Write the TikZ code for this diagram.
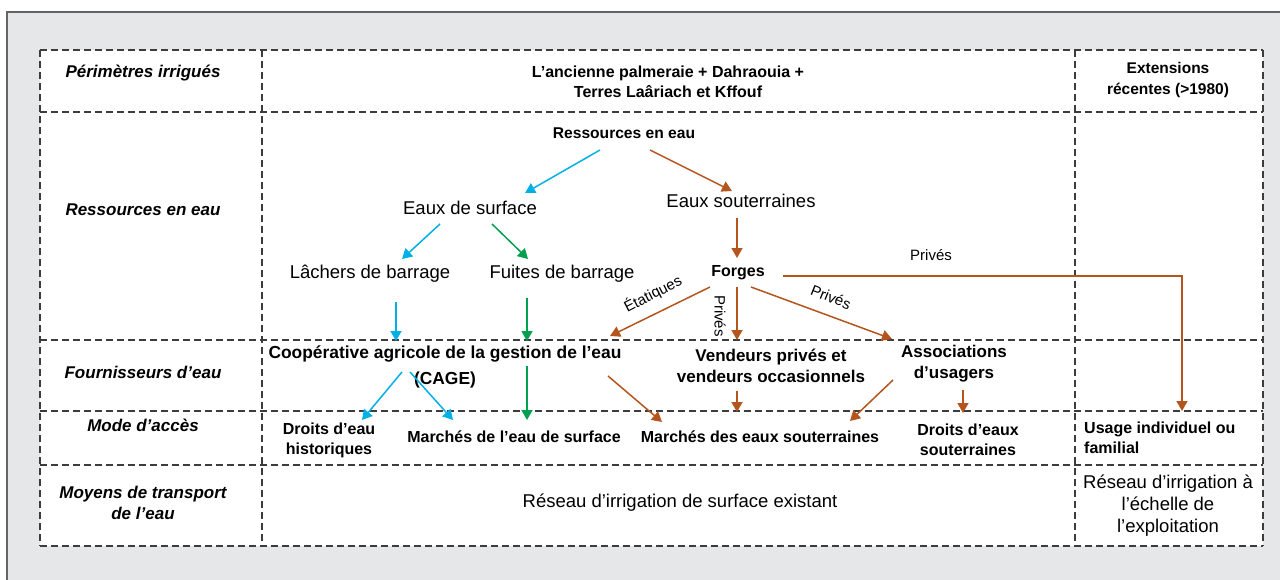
\documentclass[tikz,border=0pt]{standalone}
\usepackage{fontspec}
\setmainfont{Liberation Sans}
\usetikzlibrary{arrows.meta}
\definecolor{bgfill}{RGB}{230,231,232}
\definecolor{bordergray}{RGB}{100,100,100}
\definecolor{dashgray}{RGB}{60,60,60}
\definecolor{cblue}{RGB}{0,176,230}
\definecolor{cgreen}{RGB}{0,160,80}
\definecolor{cbrown}{RGB}{180,85,30}
\tikzset{
  tline/.style={draw=dashgray, line width=1.1pt, dash pattern=on 7pt off 4pt},
  rowlab/.style={font=\fontsize{17}{21}\selectfont\bfseries\itshape, align=center, inner sep=2pt},
  reg/.style={font=\fontsize{18.5}{22}\selectfont, align=center, inner sep=2pt},
  bold3/.style={font=\fontsize{17.4}{26}\selectfont\bfseries, align=center, inner sep=2pt},
  bold4/.style={font=\fontsize{16}{20}\selectfont\bfseries, align=center, inner sep=2pt},
  head/.style={font=\fontsize{16}{20}\selectfont\bfseries, align=center, inner sep=2pt},
  small/.style={font=\fontsize{15}{18}\selectfont, inner sep=1pt},
  arr/.style={line width=1.5pt, -{Triangle[length=10pt,width=11pt]}},
  barr/.style={arr, draw=cblue, -{Triangle[length=10pt,width=11pt,fill=cblue]}},
  garr/.style={arr, draw=cgreen},
  brarr/.style={arr, draw=cbrown},
}
\begin{document}
\begin{tikzpicture}[x=1pt,y=-1pt]
\clip (0,0) rectangle (1280,579);
\fill[white] (0,0) rectangle (1280,579);
\filldraw[fill=bgfill, draw=bordergray, line width=1.5pt] (7,12) rectangle (1300,600);
\fill[white] (40,50) rectangle (1263,546);
% table lines
\foreach \yy in {50,112,340,411,465,546} \draw[tline] (40,\yy) -- (1263,\yy);
\foreach \xx in {40,262,1075,1263} \draw[tline] (\xx,50) -- (\xx,546);

% row labels
\node[rowlab] (per) at (143,73) {Périmètres irrigués};
\node[rowlab] (lres) at (143,210) {Ressources en eau};
\node[rowlab] (lfour) at (143,372) {Fournisseurs d’eau};
\node[rowlab] (lmode) at (143,425) {Mode d’accès};
\node[rowlab] (lmoy) at (143,503) {Moyens de transport\\de l’eau};

% header
\node[head] (anc) at (668,82) {L’ancienne palmeraie + Dahraouia +\\Terres Laâriach et Kffouf};
\node[head, font=\fontsize{15.5}{21}\selectfont\bfseries] (ext) at (1168,80) {Extensions\\récentes (>1980)};

% resources
\node[head, font=\fontsize{15.6}{20}\selectfont\bfseries] (res) at (624,133) {Ressources en eau};
\node[reg] (surf) at (470,208) {Eaux de surface};
\node[reg] (sout) at (741,201) {Eaux souterraines};
\node[reg] (lach) at (370,274) {Lâchers de barrage};
\node[reg] (fuit) at (562,274) {Fuites de barrage};
\node[bold4] (forg) at (738,273) {Forges};

% suppliers
\node[bold3] (cage) at (445,367) {Coopérative agricole de la gestion de l’eau\\(CAGE)};
\node[bold3, font=\fontsize{17}{21}\selectfont\bfseries] (vend) at (771,366) {Vendeurs privés et\\vendeurs occasionnels};
\node[bold3, font=\fontsize{17}{21}\selectfont\bfseries] (assoc) at (954,364) {Associations\\d’usagers};

% access
\node[bold4] (dh) at (329,440) {Droits d’eau\\historiques};
\node[bold4] (mes) at (514,437) {Marchés de l’eau de surface};
\node[bold4] (meso) at (760,437) {Marchés des eaux souterraines};
\node[bold4] (deso) at (968,440) {Droits d’eaux\\souterraines};
\node[bold4, align=left, anchor=west] (usage) at (1082,438) {Usage individuel ou\\familial};

% transport
\node[reg] (reseau) at (680,503) {Réseau d’irrigation de surface existant};
\node[reg, font=\fontsize{18.5}{22}\selectfont] (reseau2) at (1168,506) {Réseau d’irrigation à\\l’échelle de\\l’exploitation};

% arrow labels
\node[small] (lpriv1) at (931,255) {Privés};
\node[small, rotate=27] (letat) at (653,294) {Étatiques};
\node[small, rotate=-90] (lpriv2) at (720,316) {Privés};
\node[small, rotate=-22] (lpriv3) at (831,297) {Privés};

% arrows
\draw[barr] ([shift={(-24,17)}]res.center) -- ([shift={(55,-15)}]surf.center);
\draw[brarr] ([shift={(26,17)}]res.center) -- ([shift={(-9,-10)}]sout.center);
\draw[barr] ([shift={(-30,16)}]surf.center) -- ([shift={(32,-15)}]lach.center);
\draw[garr] ([shift={(22,16)}]surf.center) -- ([shift={(-34,-15)}]fuit.center);
\draw[brarr] ([shift={(-4,17)}]sout.center) -- ([shift={(-1,-15)}]forg.center);
\draw[barr] ([shift={(26,28)}]lach.center) -- ([shift={(-49,-26)}]cage.center);
\draw[garr] ([shift={(-35,24)}]fuit.center) -- ([shift={(82,-26)}]cage.center);
\draw[brarr] ([shift={(-28,14)}]forg.center) -- ([shift={(165,-31)}]cage.center);
\draw[brarr] ([shift={(-1,14)}]forg.center) -- ([shift={(-34,-26)}]vend.center);
\draw[brarr] ([shift={(13,14)}]forg.center) -- ([shift={(-62,-25)}]assoc.center);
\draw[brarr] ([shift={(45,3)}]forg.center) -| ([shift={(100,-27)}]usage.west);
\draw[barr] ([shift={(-43,5)}]cage.center) -- ([shift={(33,-20)}]dh.center);
\draw[barr] ([shift={(-35,5)}]cage.center) -- ([shift={(-61,-17)}]mes.center);
\draw[garr] ([shift={(82,-1)}]cage.center) -- ([shift={(13,-17)}]mes.center);
\draw[brarr] ([shift={(163,9)}]cage.center) -- ([shift={(-98,-15)}]meso.center);
\draw[brarr] ([shift={(-34,25)}]vend.center) -- ([shift={(-23,-25)}]meso.center);
\draw[brarr] ([shift={(-61,16)}]assoc.center) -- ([shift={(90,-16)}]meso.center);
\draw[brarr] ([shift={(9,26)}]assoc.center) -- ([shift={(-5,-27)}]deso.center);
\end{tikzpicture}
\end{document}
